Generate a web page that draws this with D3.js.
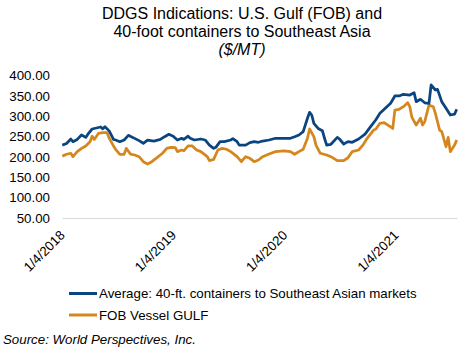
<!DOCTYPE html>
<html>
<head>
<meta charset="utf-8">
<script src="https://cdn.jsdelivr.net/npm/d3@7"></script>
<style>
  body { margin: 0; background: #fff; }
  svg { display: block; font-family: "Liberation Sans", Arial, sans-serif; }
</style>
</head>
<body>
<svg id="chart" width="472" height="351"></svg>
<script>
// weekly series, offsets in weeks from 1/4/2018
const startDate = "2018-01-04"
const lastWeek = 185

const avgWeeks = [0, 2, 4, 5, 7, 9, 11, 12, 14, 16, 18, 19, 20, 22, 24, 25, 27, 29, 31, 33,
  36, 38, 40, 43, 46, 48, 50, 52, 54, 56, 57, 59, 60, 62, 65, 67, 69, 71, 72, 74,
  76, 79, 80, 82, 83, 86, 88, 90, 92, 94, 97, 100, 104, 107, 109, 111, 113, 115, 116, 117,
  118, 120, 122, 123, 124, 126, 129, 130, 132, 134, 136, 139, 142, 144, 147, 149, 151, 154, 156, 158,
  160, 163, 165, 166, 168, 170, 172, 173, 175, 176, 178, 180, 182, 184, 185]
const avgValues = [229, 233, 244, 237.5, 243, 254, 248, 256, 268.6, 271, 273.5, 269, 274, 264, 243, 241.6, 237.5, 241.6, 253, 248,
  240, 233.5, 241, 239, 243, 249.7, 255.6, 251, 241.6, 245.8, 243, 251, 246, 241.6, 244, 241.6, 229, 221, 223.6, 237.5,
  237.5, 241.6, 245, 237.5, 229, 229, 235, 237.5, 236, 239, 241.6, 245.8, 245.8, 245.8, 249.7, 253.9, 262, 295, 309.6, 303,
  282.6, 270, 264.5, 245.8, 229, 231, 248, 244, 231.8, 237.5, 236, 244, 256, 270, 290.7, 307, 317, 331.7, 349.7, 349.7,
  353.9, 352, 357.8, 335.7, 341.6, 333, 331.7, 376.7, 364.4, 366, 335.7, 319.5, 303, 305, 317]

const fobWeeks = [0, 2, 4, 5, 7, 9, 11, 13, 14, 15, 17, 19, 21, 22, 24, 25, 27, 29, 30, 32,
  34, 36, 38, 40, 42, 44, 47, 49, 51, 53, 54, 56, 57, 59, 61, 63, 65, 68, 69, 71,
  73, 75, 77, 79, 82, 84, 86, 88, 90, 92, 94, 97, 100, 104, 107, 109, 111, 113, 115, 116,
  118, 119, 121, 124, 126, 129, 132, 134, 136, 139, 141, 143, 146, 147, 149, 151, 154, 155, 156, 158,
  160, 162, 163, 164, 166, 168, 169, 170, 172, 174, 175, 177, 178, 180, 181, 182, 184, 185]
const fobValues = [202, 206.5, 209, 200.6, 213, 221, 227, 237.5, 251, 243, 258, 259.6, 259.6, 246, 227, 218.8, 206.5, 206.5, 221, 207,
  204.8, 200.6, 188.3, 182.6, 188.3, 196.6, 209, 221, 223.6, 222.7, 213, 217, 215, 227, 227, 217, 213, 200.6, 190.8, 194,
  217, 221, 218.8, 213, 200.6, 188.3, 200.6, 196.6, 188.3, 192.5, 200.6, 207, 213, 215, 213, 206.5, 213, 218.8, 245.8, 268.6,
  249.7, 229, 209, 204.8, 200.6, 190.8, 190.8, 198, 213, 217, 229, 245.8, 266, 268, 282.6, 284, 274, 270, 315, 317,
  323.4, 333, 323.4, 297, 278.5, 295, 278.5, 286.5, 327.6, 323.4, 307, 266, 262, 225, 248, 213, 229, 241.6]

const yTicks = [50, 100, 150, 200, 250, 300, 350, 400]
const xTickDates = ["2018-01-04", "2019-01-04", "2020-01-04", "2021-01-04"]

const titleLines = ["DDGS Indications: U.S. Gulf (FOB) and", "40-foot containers to Southeast Asia"]
const unitLabel = "($/MT)"
const seriesNames = ["Average: 40-ft. containers to Southeast Asian markets", "FOB Vessel GULF"]
const sourceText = "Source: World Perspectives, Inc."

const colors = ["#0b4580", "#d5871e"]

const parseDate = d3.utcParse("%Y-%m-%d")
const start = parseDate(startDate)
const weekDate = w => d3.utcDay.offset(start, w * 7)

const svg = d3.select("#chart")

const x = d3.scaleUtc()
  .domain([start, weekDate(lastWeek)])
  .range([62.3, 456.7])

const y = d3.scaleLinear()
  .domain([50, 400])
  .range([218, 75.5])

// Title
svg.append("g")
  .selectAll("text")
  .data(titleLines)
  .enter()
  .append("text")
  .attr("x", 242)
  .attr("y", (d, i) => 19 + i * 18)
  .attr("text-anchor", "middle")
  .style("font-size", "16px")
  .style("fill", "#000")
  .text(d => d)

svg.append("text")
  .attr("x", 242)
  .attr("y", 55)
  .attr("text-anchor", "middle")
  .style("font-size", "16px")
  .style("font-style", "italic")
  .text(unitLabel)

// Y axis labels (no axis line)
const yAxis = svg.append("g")
  .attr("transform", "translate(52,0)")
  .call(d3.axisLeft(y).tickValues(yTicks).tickFormat(d3.format(".2f")).tickSize(0).tickPadding(2))
yAxis.select(".domain").remove()
yAxis.selectAll("text")
  .style("font-size", "13.3px")
  .style("font-family", "Liberation Sans, Arial, sans-serif")
  .style("fill", "#000")

// X axis
const xAxis = svg.append("g")
  .attr("transform", `translate(0, ${y(50)})`)
  .call(d3.axisBottom(x).tickValues(xTickDates.map(parseDate)).tickFormat(d3.utcFormat("%-m/%-d/%Y")).tickSize(0).tickSizeOuter(0))
xAxis.select(".domain")
  .style("stroke", "#d9d9d9")
  .style("stroke-width", 1)
xAxis.selectAll("text")
  .style("font-size", "13.3px")
  .style("font-family", "Liberation Sans, Arial, sans-serif")
  .style("fill", "#000")
  .style("text-anchor", "end")
  .attr("dx", "0")
  .attr("dy", "0")
  .attr("y", 0)
  .attr("transform", "translate(3, 18) rotate(-45)")

// Lines
const series = [
  { name: seriesNames[0], weeks: avgWeeks, values: avgValues, color: colors[0] },
  { name: seriesNames[1], weeks: fobWeeks, values: fobValues, color: colors[1] }
]

const line = d3.line()
  .x(d => x(d.date))
  .y(d => y(d.value))

series.slice().reverse().forEach(s => {
  const pts = s.weeks.map((w, i) => ({ date: weekDate(w), value: s.values[i] }))
  svg.append("path")
    .datum(pts)
    .attr("fill", "none")
    .attr("stroke", s.color)
    .attr("stroke-width", 2.75)
    .attr("stroke-linejoin", "round")
    .attr("d", line)
})

// Legend
const legend = svg.append("g")
  .selectAll("g")
  .data(series)
  .enter()
  .append("g")
  .attr("transform", (d, i) => `translate(69, ${293.5 + i * 21.5})`)

legend.append("line")
  .attr("x1", 0)
  .attr("x2", 28)
  .attr("stroke", d => d.color)
  .attr("stroke-width", 3)

legend.append("text")
  .attr("x", 30)
  .attr("y", 4.5)
  .style("font-size", "13.3px")
  .text(d => d.name)

// Source
svg.append("text")
  .attr("x", 3)
  .attr("y", 344)
  .style("font-size", "13.3px")
  .style("font-style", "italic")
  .text(sourceText)
</script>
</body>
</html>
